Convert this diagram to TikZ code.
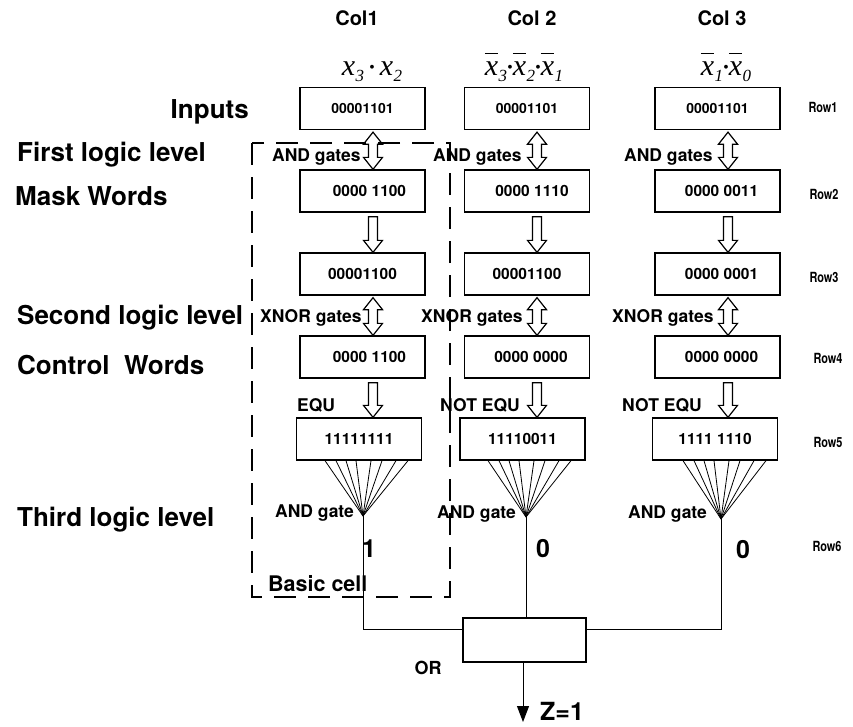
\documentclass[tikz,border=0pt]{standalone}
\usepackage{fontspec}
\setmainfont{TeX Gyre Heros}
\newfontfamily\tms{Liberation Serif}
\newfontfamily\narrowsf[FakeStretch=0.78]{TeX Gyre Heros}
\usetikzlibrary{calc,arrows.meta}

% variable x with an italic subscript, Times style
\newcommand\xsub[1]{x\kern0.5pt\raisebox{-0.2em}{\fontsize{17}{17}\selectfont #1}}
% the same with a bar over the x
\newcommand\xbar[1]{\setbox0\hbox{x}%
  \vbox{\hrule height 1.1pt width \wd0 \kern 7.5pt \hbox{\xsub{#1}}}}
\newcommand\sdot{\raisebox{0.08em}{\fontsize{16}{16}\selectfont\textbullet}}

% hollow arrow with heads at both ends: #1 upper tip, #2 lower tip
\newcommand\dblarrow[2]{%
  \draw[hollow] (#1) -- ($(#1)+(9.5,12)$) -- ($(#1)+(4.5,12)$) -- ($(#2)+(4.5,-12)$)
    -- ($(#2)+(9.5,-12)$) -- (#2) -- ($(#2)+(-9.5,-12)$) -- ($(#2)+(-4.5,-12)$)
    -- ($(#1)+(-4.5,12)$) -- ($(#1)+(-9.5,12)$) -- cycle;}
% hollow downward arrow: #1 top of shaft, #2 tip
\newcommand\dnarrow[2]{%
  \draw[hollow] ($(#1)+(-4.5,0)$) -- ($(#1)+(4.5,0)$) -- ($(#2)+(4.5,-12)$)
    -- ($(#2)+(9.5,-12)$) -- (#2) -- ($(#2)+(-9.5,-12)$) -- ($(#2)+(-4.5,-12)$) -- cycle;}

\tikzset{
  word/.style={draw, line width=1.3pt, minimum width=125pt, minimum height=42pt,
    inner sep=0pt, font=\fontsize{15.5}{15.5}\selectfont\bfseries},
  inword/.style={word, font=\fontsize{14}{14}\selectfont\bfseries},
  orbox/.style={draw, line width=1.3pt, minimum width=123pt, minimum height=44pt, inner sep=0pt},
  side/.style={anchor=west, inner sep=0pt, font=\fontsize{26}{26}\selectfont\bfseries},
  gatelbl/.style={anchor=west, inner sep=0pt, font=\fontsize{17.5}{17.5}\selectfont\bfseries},
  rowlbl/.style={inner sep=0pt, font=\fontsize{14}{14}\selectfont\narrowsf\bfseries},
  colhead/.style={inner sep=0pt, font=\fontsize{20}{20}\selectfont\bfseries},
  formula/.style={inner sep=0pt, anchor=base, font=\fontsize{30}{30}\selectfont\tms\itshape},
  bitout/.style={inner sep=0pt, font=\fontsize{25}{25}\selectfont\bfseries},
  hollow/.style={draw, line width=1.2pt, fill=white, line join=miter},
  wire/.style={line width=1pt},
  fan/.style={line width=0.8pt},
  cellframe/.style={line width=1.8pt, dash pattern=on 22pt off 12pt},
}

\begin{document}
\begin{tikzpicture}[x=1pt, y=-1pt]
\useasboundingbox (0,0) rectangle (853,726);

% column headings and the product terms
\node[colhead] (h1) at (357,18) {Col1};
\node[colhead] (h2) at (532,18) {Col 2};
\node[colhead] (h3) at (722,18) {Col 3};
\node[formula] (f1) at (372,75) {\xsub{3}\,\sdot\,\xsub{2}};
\node[formula] (f2) at (524,75) {\xbar{3}\sdot\xbar{2}\sdot\xbar{1}};
\node[formula] (f3) at (726,75) {\xbar{1}\sdot\xbar{0}};

% level names on the left
\node[side, anchor=east] (lin) at (249,112) {Inputs};
\node[side] (l1) at (17,155) {First logic level};
\node[side] (lm) at (15,196) {Mask Words};
\node[side] (l2) at (17,318) {Second logic level};
\node[side] (lc) at (17,365) {Control\ \ Words};
\node[side] (l3) at (17,520) {Third logic level};

% row names on the right
\node[rowlbl] (r1) at (823,107) {Row1};
\node[rowlbl] (r2) at (824,194) {Row2};
\node[rowlbl] (r3) at (824,277) {Row3};
\node[rowlbl] (r4) at (828,358) {Row4};
\node[rowlbl] (r5) at (828,442) {Row5};
\node[rowlbl] (r6) at (827,546) {Row6};

% column 1
\node[inword] (a1) at (362.5,108.5) {00001101};
\node[word] (a2) at (362.5,191) {\hspace{14pt}0000 1100};
\node[word] (a3) at (362.5,274) {00001100};
\node[word] (a4) at (362.5,357) {\hspace{14pt}0000 1100};
\node[word] (a5) at (359,439) {11111111};
% column 2
\node[inword] (b1) at (527,108.5) {00001101};
\node[word] (b2) at (527,191) {\hspace{10pt}0000 1110};
\node[word] (b3) at (527,274) {00001100};
\node[word] (b4) at (527,357) {\hspace{8pt}0000 0000};
\node[word] (b5) at (522.5,439) {11110011};
% column 3
\node[inword] (c1) at (717.5,108.5) {00001101};
\node[word] (c2) at (717.5,191) {\hspace{8pt}0000 0011};
\node[word] (c3) at (717.5,274) {\hspace{8pt}0000 0001};
\node[word] (c4) at (717.5,357) {\hspace{8pt}0000 0000};
\node[word] (c5) at (715,439) {1111 1110};

% gate labels
\node[gatelbl] (g11) at (272,157) {AND gates};
\node[gatelbl] (g21) at (433,157) {AND gates};
\node[gatelbl] (g31) at (624,157) {AND gates};
\node[gatelbl] (g12) at (260,318) {XNOR gates};
\node[gatelbl] (g22) at (421,318) {XNOR gates};
\node[gatelbl] (g32) at (612,318) {XNOR gates};
\node[gatelbl] (e1) at (297,405) {EQU};
\node[gatelbl] (e2) at (440,405) {NOT EQU};
\node[gatelbl] (e3) at (622,405) {NOT EQU};
\node[gatelbl] (g13) at (275,513) {AND gate};
\node[gatelbl] (g23) at (437,514) {AND gate};
\node[gatelbl] (g33) at (628,514) {AND gate};

% hollow transfer arrows between the rows
\foreach \col/\dx in {a/10.5, b/10, c/10.5}{
  \coordinate (\col t1) at ($(\col1.south)+(\dx,2)$);
  \coordinate (\col b1) at ($(\col2.north)+(\dx,0)$);
  \coordinate (\col t2) at ($(\col2.south)+(\dx,4)$);
  \coordinate (\col b2) at ($(\col3.north)+(\dx,0)$);
  \coordinate (\col t3) at ($(\col3.south)+(\dx,2)$);
  \coordinate (\col b3) at ($(\col4.north)+(\dx,0)$);
  \coordinate (\col t4) at ($(\col4.south)+(\dx,4)$);
  \coordinate (\col b4) at (\col t4 |- \col5.north);
  \dblarrow{\col t1}{\col b1}
  \dnarrow{\col t2}{\col b2}
  \dblarrow{\col t3}{\col b3}
  \dnarrow{\col t4}{\col b4}
}

% AND fans of the third level
\coordinate (p1) at (363,516);
\coordinate (p2) at (526,517);
\coordinate (p3) at (721,519);
\foreach \w/\p in {a5/p1, b5/p2, c5/p3}{
  \coordinate (top) at (\w.south -| \p);
  \foreach \dx in {-38,-27,-17,-7,8,19,33,45}
    \draw[fan] ($(top)+(\dx,0)$) -- (\p);
}

% outputs of the cells
\node[bitout] (o1) at (369,549) {1};
\node[bitout] (o2) at (543,549) {0};
\node[bitout] (o3) at (743,550) {0};

% OR gate and result
\node[orbox] (or) at (524.5,640) {};
\coordinate (j1) at ($(or.north west)+(0,12)$);
\coordinate (j3) at ($(or.north east)+(0,12)$);
\draw[wire] (p1) |- (j1);
\draw[wire] (p2) -- (p2 |- or.north);
\draw[wire] (p3) |- (j3);
\coordinate (zt) at (523,722);
\draw[wire, -{Triangle[length=16pt,width=12pt]}] (or.south -| zt) -- (zt);
\node[bitout, anchor=west] (z) at (540,711) {Z=1};
\node[bitout, font=\fontsize{18}{18}\selectfont\bfseries] (orl) at (428,668) {OR};

% basic cell frame
\draw[cellframe] (252,143) rectangle (450,597);
\node[gatelbl, font=\fontsize{21.5}{21.5}\selectfont\bfseries] (bc) at (268,584) {Basic cell};
\end{tikzpicture}
\end{document}
